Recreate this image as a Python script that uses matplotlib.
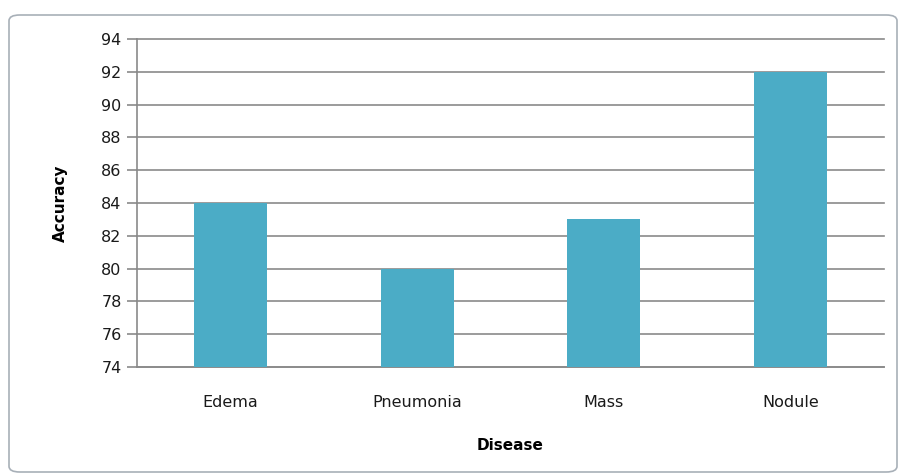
import matplotlib
matplotlib.use("Agg")
import matplotlib.pyplot as plt
from matplotlib.patches import FancyBboxPatch

diseases = ["Edema", "Pneumonia", "Mass", "Nodule"]
accuracy = [84, 80, 83, 92]
y_ticks = [74, 76, 78, 80, 82, 84, 86, 88, 90, 92, 94]

fig = plt.figure(figsize=(9.01, 4.76), dpi=100)
fig.patch.set_facecolor("white")

# chart frame with rounded corners
frame = FancyBboxPatch((9 / 901, 4 / 476), 888 / 901, 457 / 476,
                       boxstyle="round,pad=0,rounding_size=0.012",
                       transform=fig.transFigure, facecolor="white",
                       edgecolor="#a8b0b8", linewidth=1.2, zorder=0)
fig.patches.append(frame)

ax = fig.add_axes([137 / 901, 1 - 367 / 476, (884 - 137) / 901, (367 - 39) / 476])
ax.set_zorder(2)
ax.set_facecolor("none")

x = range(len(diseases))
ax.bar(x, accuracy, width=0.39, color="#4BACC6", zorder=3)

ax.set_ylim(74, 94)
ax.set_xlim(-0.5, len(diseases) - 0.5)
ax.set_yticks(y_ticks)
ax.set_yticklabels([str(v) for v in y_ticks], fontsize=11.5, color="#1a1a1a")
ax.set_xticks(list(x))
ax.set_xticklabels(diseases, fontsize=11.5, color="#1a1a1a")

ax.yaxis.grid(True, color="#8a8a8a", linewidth=1.2, zorder=0)
for gl in ax.get_ygridlines():
    gl.set_clip_on(False)
ax.set_axisbelow(True)

for side in ("top", "right"):
    ax.spines[side].set_visible(False)
ax.spines["left"].set_color("#8a8a8a")
ax.spines["left"].set_linewidth(1.2)
ax.spines["bottom"].set_color("#8a8a8a")
ax.spines["bottom"].set_linewidth(1.2)

ax.tick_params(axis="y", length=7, width=1.2, color="#8a8a8a", pad=4)
ax.tick_params(axis="x", length=0, pad=20)

ax.set_ylabel("Accuracy", fontsize=11, fontweight="bold", labelpad=24)
ax.set_xlabel("Disease", fontsize=11, fontweight="bold", labelpad=20)

fig.savefig("out.png", dpi=100, facecolor="white")
